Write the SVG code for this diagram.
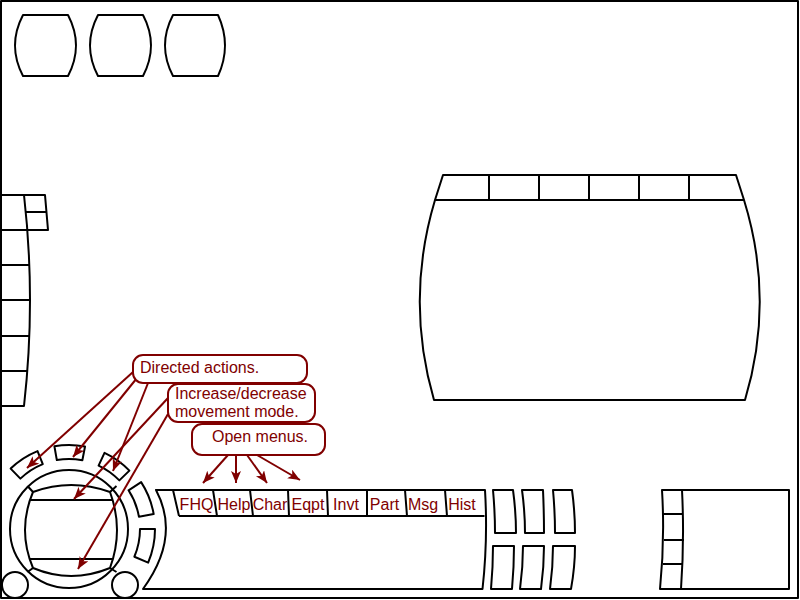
<svg xmlns="http://www.w3.org/2000/svg" width="800" height="600" viewBox="0 0 800 600">
<defs>
<style>
.s{fill:none;stroke:#000;stroke-width:2;stroke-linejoin:round}
.w{fill:#fff;stroke:#000;stroke-width:2;stroke-linejoin:round}
.lbl{fill:#fff;stroke:#800000;stroke-width:2}
.t{font-family:"Liberation Sans",Arial,sans-serif;font-size:16px;fill:#800000}
.tab{font-family:"Liberation Sans",Arial,sans-serif;font-size:16px;fill:#800000;text-anchor:middle}
.c{fill:none;stroke:#800000;stroke-width:2;marker-end:url(#ah)}
</style>
<marker id="ah" markerUnits="userSpaceOnUse" markerWidth="13" markerHeight="11" refX="12" refY="5" orient="auto">
<path d="M0,0 L12,5 L0,10 L3,5 Z" fill="#800000"/>
</marker>
</defs>
<rect x="0" y="0" width="800" height="600" fill="#fff"/>
<rect x="1" y="1" width="797" height="597" class="s"/>

<g id="top-buttons">
<path class="s" d="M23,15 L68,15 Q84,45.5 68,76 L23,76 Q7,45.5 23,15 Z"/>
<path class="s" d="M98,15 L143,15 Q159,45.5 143,76 L98,76 Q82,45.5 98,15 Z"/>
<path class="s" d="M173,15 L218,15 Q232,45.5 218,76 L173,76 Q157,45.5 173,15 Z"/>
</g>

<g id="left-panel">
<path class="s" d="M0,195 L45,195 L48,230 L0,230 M26,212 L46.5,212 M24,195 Q36,300 24,406 L0,406 M0,265 L28.8,265 M0,300 L30,300 M0,336 L29.6,336 M0,371 L27.5,371"/>
</g>

<g id="main-view">
<path class="s" d="M443,175 L736,175 L744,200 L435,200 Z M489,175 L489,200 M539,175 L539,200 M589,175 L589,200 M639,175 L639,200 M689,175 L689,200"/>
<path class="s" d="M435,200 Q405,300 434,400 L745,400 Q775,300 744,200"/>
</g>

<g id="control-ring">
<circle class="s" cx="69" cy="529" r="59"/>
<path class="s" d="M33,492 Q71,478 110,492 Q124,530 110,568 Q71,584 33,568 Q17,530 33,492 Z"/>
<path class="s" d="M30,500 L113,500 M30,559 L113,559"/>
<path class="s" d="M27.5,486 L33,492 M116.5,486 L110,492 M27.5,572 L33,568 M116.5,572 L110,568"/>
<circle class="s" cx="15" cy="585" r="13"/>
<circle class="s" cx="125" cy="585" r="13"/>
</g>

<g id="ring-buttons">
<path class="s" d="M20.37,478.65 A70,70 0 0 1 42.78,464.10 L37.53,451.12 A84,84 0 0 0 10.65,468.58 Z"/>
<path class="s" d="M56.84,460.06 A70,70 0 0 1 82.36,460.29 L85.03,446.54 A84,84 0 0 0 54.41,446.28 Z"/>
<path class="s" d="M98.58,465.56 A70,70 0 0 1 119.35,480.37 L129.42,470.65 A84,84 0 0 0 104.50,452.87 Z"/>
<path class="s" d="M128.55,490.33 A71,71 0 0 1 138.92,516.67 L153.69,514.07 A86,86 0 0 0 141.13,482.16 Z"/>
<path class="s" d="M140,529 A71,71 0 0 1 134.36,556.74 L148.16,562.60 A86,86 0 0 0 155,529 Z"/>
</g>

<g id="menu-panel">
<path class="s" d="M156,490 L485,490 Q488,540 482.5,589 L143,589 Q181,537 156,490 Z"/>
<path class="s" d="M179,516 L484.5,516 M173,490 L179,516 M213,490 L217,516 M250,490 L253,516 M288,490 L289,516 M327,490 L328,516 M367,490 L367,516 M405,490 L407,516 M445,490 L447,516"/>
<text class="tab" x="196.5" y="510">FHQ</text>
<text class="tab" x="234" y="510">Help</text>
<text class="tab" x="270" y="510">Char</text>
<text class="tab" x="308" y="510">Eqpt</text>
<text class="tab" x="346" y="510">Invt</text>
<text class="tab" x="384.5" y="510">Part</text>
<text class="tab" x="423" y="510">Msg</text>
<text class="tab" x="462" y="510">Hist</text>
</g>

<g id="quick-buttons">
<path class="s" d="M493,490 L513,490 Q516,512 516,533 L495,533 Q495,512 493,490 Z"/>
<path class="s" d="M493,546 L514,546 Q514,567 512,589 L491,589 Q493,567 493,546 Z"/>
<path class="s" d="M522,490 L543,490 Q544,512 544,533 L525,533 Q525,512 522,490 Z"/>
<path class="s" d="M523,546 L544,546 Q544,567 541,589 L520,589 Q523,567 523,546 Z"/>
<path class="s" d="M553,490 L572,490 Q575,512 575,533 L555,533 Q555,512 553,490 Z"/>
<path class="s" d="M553,546 L575,546 Q575,567 571,589 L550,589 Q553,567 553,546 Z"/>
</g>

<g id="map-panel">
<path class="s" d="M662,490 L789,490 L789,589 L660,589 Q665,540 662,490 Z"/>
<path class="s" d="M682,490 Q684.5,540 681,589 M663,514 L683,514 M664,540 L684,540 M663,564 L683,564"/>
</g>

<g id="connectors">
<path class="c" d="M133,372 L27,468"/>
<path class="c" d="M137,378 L73,457"/>
<path class="c" d="M148,383 L113,471"/>
<path class="c" d="M168,398 L74,499"/>
<path class="c" d="M168,414 L78,569"/>
<path class="c" d="M228,455 L203,483"/>
<path class="c" d="M236,455 L236,483"/>
<path class="c" d="M247,455 L267,483"/>
<path class="c" d="M257,455 L300,480"/>
</g>

<g id="label-directed">
<rect class="lbl" x="133" y="355" width="174" height="28" rx="10"/>
<text class="t" x="140" y="373">Directed actions.</text>
</g>
<g id="label-movement">
<rect class="lbl" x="168" y="384" width="147" height="38" rx="10"/>
<text class="t" x="175" y="399">Increase/decrease</text>
<text class="t" x="175" y="417">movement mode.</text>
</g>
<g id="label-menus">
<rect class="lbl" x="192" y="424" width="133" height="31" rx="10"/>
<text class="t" x="212" y="442">Open menus.</text>
</g>
</svg>
